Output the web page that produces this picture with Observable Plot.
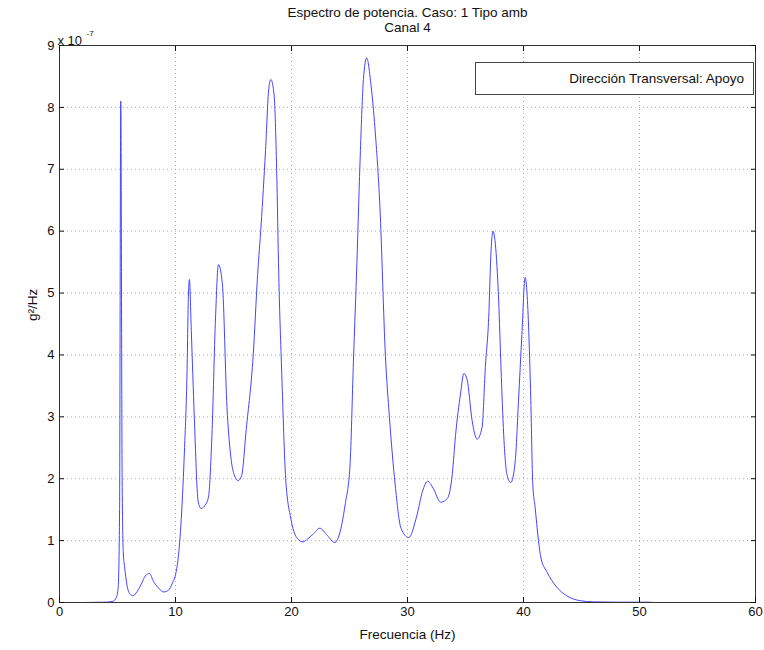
<!DOCTYPE html>
<html>
<head>
<meta charset="utf-8">
<script src="https://cdn.jsdelivr.net/npm/d3@7"></script>
<script src="https://cdn.jsdelivr.net/npm/@observablehq/plot@0.6"></script>
<style>
  html, body { margin: 0; padding: 0; background: #fff; }
  #wrap { position: relative; width: 764px; height: 650px; font-family: "Liberation Sans", Arial, sans-serif; }
  #legend { position: absolute; left: 475px; top: 62px; width: 279px; height: 33px; box-sizing: border-box;
            border: 1px solid #444; background: #fff; font-size: 13.5px; line-height: 31px; text-align: right;
            padding-right: 9px; color: #111; }
</style>
</head>
<body>
<div id="wrap"><div id="chart"></div><div id="legend"></div></div>
<script>
const titleText = "Espectro de potencia. Caso: 1 Tipo amb\nCanal 4";
const xLabel = "Frecuencia (Hz)";
const yLabel = "g²/Hz";
const expBase = "x 10";
const expPower = "-7";
const legendLabel = "Dirección Transversal: Apoyo";
const xTicks = [0, 10, 20, 30, 40, 50, 60];
const yTicks = [0, 1, 2, 3, 4, 5, 6, 7, 8, 9];

// Frequency (Hz)
const freq = [0, 2, 4, 4.6, 4.9, 5.06, 5.18, 5.28, 5.4, 5.5, 5.61, 5.8, 6.06, 6.36, 6.7, 7.06, 7.4, 7.76, 8.1, 8.46,
  9.0, 9.4, 9.7, 10.0, 10.22, 10.5, 10.78, 10.98, 11.12, 11.2, 11.36, 11.62, 11.95, 12.2, 12.5, 12.84, 13.14, 13.45,
  13.7, 14.04, 14.44, 14.74, 15.0, 15.4, 15.7, 16.1, 16.7, 17.08, 17.38, 17.76, 18.04, 18.22, 18.5, 18.72, 18.9,
  19.16, 19.5, 19.95, 20.44, 20.99, 21.4, 21.84, 22.44, 23.1, 23.74, 24.04, 24.64, 25.04, 25.34, 25.64, 25.94, 26.2,
  26.48, 26.86, 27.2, 27.62, 28.1, 28.44, 28.94, 29.44, 30.1, 30.8, 31.3, 31.74, 32.2, 32.86, 33.43, 33.86, 34.14,
  34.57, 34.86, 35.14, 35.57, 36.0, 36.43, 36.71, 37.0, 37.2, 37.37, 37.57, 37.86, 38.06, 38.29, 38.57, 38.91, 39.29,
  39.57, 39.86, 40.14, 40.43, 40.63, 40.8, 41.0, 41.29, 41.5, 42.0, 42.86, 43.71, 44.86, 46, 48, 51];
// Power spectral density (x 1e-7 g^2/Hz)
const psd = [0, 0, 0.005, 0.02, 0.08, 0.25, 1.5, 8.1, 2.0, 0.8, 0.58, 0.3, 0.14, 0.11, 0.18, 0.3, 0.43, 0.47, 0.34, 0.25,
  0.17, 0.2, 0.3, 0.45, 0.7, 1.36, 2.5, 3.6, 5.0, 5.22, 4.4, 3.0, 1.64, 1.52, 1.56, 1.7, 2.7, 4.6,
  5.46, 5.15, 3.15, 2.4, 2.1, 1.97, 2.05, 2.8, 4.0, 5.3, 6.1, 7.3, 8.3, 8.45, 8.2, 7.0, 5.3,
  3.7, 2.0, 1.35, 1.05, 0.98, 1.03, 1.1, 1.2, 1.08, 0.97, 1.05, 1.6, 2.2, 3.9, 5.5, 7.3, 8.45,
  8.8, 8.35, 7.65, 6.4, 3.97, 3.0, 1.9, 1.2, 1.05, 1.4, 1.8, 1.96, 1.85, 1.62, 1.68, 2.07, 2.7,
  3.37, 3.7, 3.6, 2.94, 2.64, 2.83, 3.8, 4.6, 5.68, 6.0, 5.8, 4.87, 3.8, 2.72, 2.07, 1.94, 2.29,
  3.26, 4.33, 5.25, 4.5, 3.26, 1.91, 1.54, 1.0, 0.72, 0.5, 0.25, 0.11, 0.03, 0.01, 0.005, 0.005];

const data = freq.map((f, i) => ({f, p: psd[i]}));
const font = "'Liberation Sans', Arial, Helvetica, sans-serif";

const chart = Plot.plot({
  width: 764,
  height: 650,
  marginLeft: 59,
  marginRight: 9,
  marginTop: 45,
  marginBottom: 48,
  style: {fontFamily: font, fontSize: "13px", color: "#111", background: "#fff", overflow: "visible"},
  x: {domain: [0, 60]},
  y: {domain: [0, 9]},
  marks: [
    Plot.gridX(xTicks.slice(1, -1), {stroke: "#999", strokeOpacity: 0.8, strokeDasharray: "1,3"}),
    Plot.gridY(yTicks.slice(1, -1), {stroke: "#999", strokeOpacity: 0.8, strokeDasharray: "1,3"}),
    Plot.line(data, {x: "f", y: "p", stroke: "#4444ff", strokeWidth: 1, curve: "monotone-x"}),
    Plot.frame({stroke: "#333"}),
    Plot.axisX({anchor: "bottom", ticks: xTicks, tickSize: -5, tickPadding: 9, label: null, fontSize: 13}),
    Plot.axisX({anchor: "top", ticks: xTicks, tickSize: -5, tickFormat: () => "", label: null}),
    Plot.axisY({anchor: "left", ticks: yTicks, tickSize: -5, tickPadding: 10, label: null, fontSize: 13}),
    Plot.axisY({anchor: "right", ticks: yTicks, tickSize: -5, tickFormat: () => "", label: null}),
    Plot.text([titleText], {text: d => d, frameAnchor: "top", dy: -25.5, lineAnchor: "middle", lineHeight: 1.12, fontSize: 13.5}),
    Plot.text([xLabel], {text: d => d, frameAnchor: "bottom", dy: 32, lineAnchor: "middle", fontSize: 13.5}),
    Plot.text([yLabel], {text: d => d, frameAnchor: "left", dx: -27, dy: -3, rotate: -90, lineAnchor: "middle", fontSize: 13.5}),
    Plot.text([expBase], {text: d => d, frameAnchor: "top-left", textAnchor: "start", dx: -2, dy: -5, lineAnchor: "middle", fontSize: 13}),
    Plot.text([expPower], {text: d => d, frameAnchor: "top-left", textAnchor: "start", dx: 27, dy: -12, lineAnchor: "middle", fontSize: 8})
  ]
});
document.getElementById("chart").appendChild(chart);
document.getElementById("legend").textContent = legendLabel;
</script>
</body>
</html>
